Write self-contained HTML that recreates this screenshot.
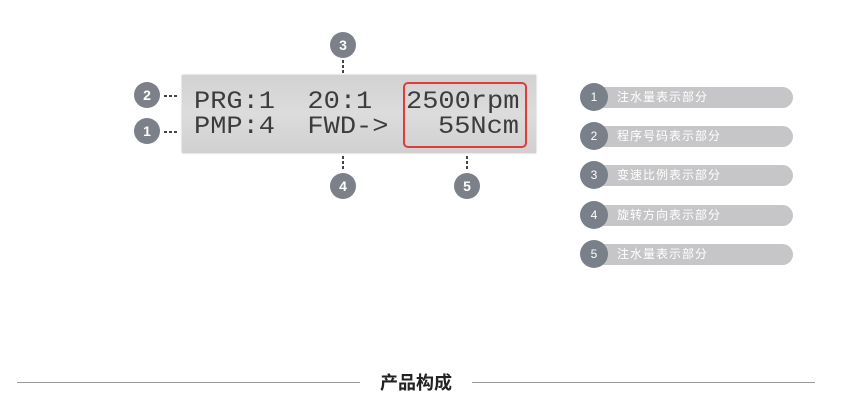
<!DOCTYPE html>
<html><head><meta charset="utf-8"><style>
body{margin:0;width:851px;height:420px;background:#fff;position:relative;overflow:hidden;font-family:"Liberation Sans","Noto Sans CJK SC",sans-serif}
.a{position:absolute}
.c{position:absolute;border-radius:50%;background:#7b8089;color:#fff;font-weight:bold;font-size:14px;text-align:center}
.lcd{position:absolute;left:182px;top:75px;width:354px;height:78px;background:linear-gradient(#d2d2d2,#dcdcdc 50%,#d0d0d0);box-shadow:0 0 2px #bbb}
.t{position:absolute;font-family:"Liberation Mono",monospace;font-size:25px;color:#3c3c3c;white-space:pre;line-height:25px;transform:scaleX(1.08);transform-origin:0 0}
.dv{position:absolute;width:2px;background:repeating-linear-gradient(#444 0 3px,transparent 3px 5px)}
.dh{position:absolute;height:2px;background:repeating-linear-gradient(90deg,#444 0 3px,transparent 3px 5px)}
.pill{position:absolute;left:594px;width:199px;height:21px;background:#c6c6c8;border-radius:0 11px 11px 0}
.pc{position:absolute;left:580px;width:28px;height:28px;border-radius:50%;background:#79808a;color:#fff;font-size:12px;line-height:28px;text-align:center}
.pt{position:absolute;left:617px;font-size:12px;color:#fff;line-height:21px;letter-spacing:1px}
</style></head><body>
<div class="lcd"></div>
<div class="t" style="left:194px;top:89px">PRG:1  20:1</div>
<div class="t" style="left:194px;top:114px">PMP:4  FWD-&gt;</div>
<div class="t" style="left:406px;top:89px">2500rpm</div>
<div class="t" style="left:438px;top:114px">55Ncm</div>
<div class="a" style="left:403px;top:82px;width:120px;height:62px;border:2px solid #e03c3c;border-radius:5px"></div>
<div class="c" style="left:134px;top:82px;width:26px;height:26px;line-height:26px">2</div>
<div class="c" style="left:134px;top:118px;width:26px;height:26px;line-height:26px">1</div>
<div class="c" style="left:330px;top:32px;width:26px;height:26px;line-height:26px">3</div>
<div class="c" style="left:330px;top:173px;width:26px;height:26px;line-height:26px">4</div>
<div class="c" style="left:454px;top:173px;width:26px;height:26px;line-height:26px">5</div>
<div class="dh" style="left:164px;top:95px;width:15px"></div>
<div class="dh" style="left:164px;top:131px;width:15px"></div>
<div class="dv" style="left:342px;top:60px;height:13px"></div>
<div class="dv" style="left:342px;top:156px;height:13px"></div>
<div class="dv" style="left:466px;top:156px;height:13px"></div>

<div class="pill" style="top:87px"></div><div class="pc" style="top:83px">1</div><div class="pt" style="top:87px">注水量表示部分</div>
<div class="pill" style="top:126px"></div><div class="pc" style="top:122px">2</div><div class="pt" style="top:126px">程序号码表示部分</div>
<div class="pill" style="top:165px"></div><div class="pc" style="top:161px">3</div><div class="pt" style="top:165px">变速比例表示部分</div>
<div class="pill" style="top:205px"></div><div class="pc" style="top:201px">4</div><div class="pt" style="top:205px">旋转方向表示部分</div>
<div class="pill" style="top:244px"></div><div class="pc" style="top:240px">5</div><div class="pt" style="top:244px">注水量表示部分</div>

<div class="a" style="left:17px;top:382px;width:343px;height:1px;background:#999"></div>
<div class="a" style="left:472px;top:382px;width:343px;height:1px;background:#999"></div>
<div class="a" style="left:366px;top:370px;width:100px;text-align:center;font-size:18px;font-weight:bold;color:#222;line-height:26px">产品构成</div>
</body></html>
